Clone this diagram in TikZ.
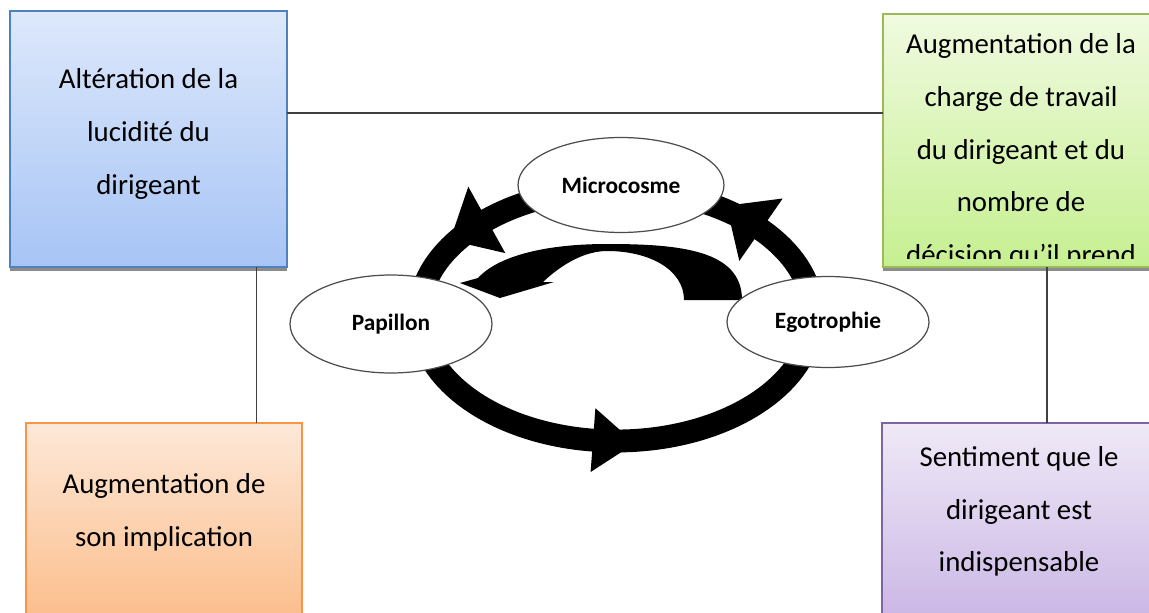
\documentclass[tikz,border=0pt]{standalone}
\usepackage{fontspec}
\setmainfont{Carlito}
\usetikzlibrary{calc,shapes.geometric,shadows}
\definecolor{LucidBlue}{HTML}{4F81BD}
\definecolor{LucidBlueTop}{HTML}{DDE8FB}
\definecolor{LucidBlueBot}{HTML}{A7C4F5}
\definecolor{ChargeGreen}{HTML}{9BBB59}
\definecolor{ChargeGreenTop}{HTML}{F0FAE0}
\definecolor{ChargeGreenBot}{HTML}{C6EF91}
\definecolor{ImplicOrange}{HTML}{F79646}
\definecolor{ImplicOrangeTop}{HTML}{FDE8D8}
\definecolor{ImplicOrangeBot}{HTML}{FBB57C}
\definecolor{IndispPurple}{HTML}{8064A2}
\definecolor{IndispPurpleTop}{HTML}{EFE9F7}
\definecolor{IndispPurpleBot}{HTML}{C3ACE1}
\tikzset{
  box/.style={rectangle, line width=1.1pt, inner sep=0pt, outer sep=0pt, drop shadow={shadow xshift=0pt, shadow yshift=-2.5pt, fill=black!45, opacity=1}},
  bluebox/.style={box, draw=LucidBlue, top color=LucidBlueTop, bottom color=LucidBlueBot, minimum width=5.54cm, minimum height=5.12cm},
  greenbox/.style={box, draw=ChargeGreen, top color=ChargeGreenTop, bottom color=ChargeGreenBot, minimum width=5.52cm, minimum height=5.06cm},
  orangebox/.style={box, draw=ImplicOrange, top color=ImplicOrangeTop, bottom color=ImplicOrangeBot, minimum width=5.52cm, minimum height=4.74cm},
  purplebox/.style={box, draw=IndispPurple, top color=IndispPurpleTop, bottom color=IndispPurpleBot, minimum width=5.52cm, minimum height=4.74cm},
  boxtext/.style={align=center, inner sep=0pt, font=\fontsize{16.4}{30}\selectfont},
  stage/.style={ellipse, draw=black!70, line width=0.7pt, fill=white, inner sep=0pt, font=\fontsize{13.3}{16}\selectfont\bfseries},
  link/.style={draw=black!75, line width=1.1pt},
  loopband/.style={draw=black, line width=13pt}
}
\begin{document}
\begin{tikzpicture}[x=0.02cm, y=-0.02cm]
\useasboundingbox (0,0) rectangle (1149,612);
\clip (0,0) rectangle (1149,612);
% four boxes
\node[bluebox] (lucid) at (148.5,139) {};
\node[greenbox] (charge) at (1021,140.5) {};
\node[orangebox] (implic) at (164,541.5) {};
\node[purplebox] (indisp) at (1020,541.5) {};
\node[boxtext] (lucidtxt) at (148.5,134) {Altération de la\\lucidité du\\dirigeant};
\begin{scope}
  \clip (883,14) rectangle (1149,258);
  \node[boxtext] (chargetxt) at (1021,151.5) {Augmentation de la\\charge de travail\\du dirigeant et du\\nombre de\\décision qu’il prend};
\end{scope}
\node[boxtext] (implictxt) at (164,512) {Augmentation de\\son implication};
\node[boxtext] (indisptxt) at (1019,511.5) {Sentiment que le\\dirigeant est\\indispensable};
% links
\draw[link] ($(lucid.north east)!0.4!(lucid.south east)$) coordinate (h1) -- (h1 -| charge.west);
\draw[link] ($(lucid.south west)!0.89!(lucid.south east)$) coordinate (l1) -- (l1 |- implic.north);
\draw[link] ($(charge.south west)!0.594!(charge.south east)$) coordinate (r1) -- (r1 |- indisp.north);
% the cycle
\draw[loopband] (616,315) ellipse [x radius=197, y radius=126];
\fill (468.3,186.7) -- (450.1,240.3) -- (505.3,253.1) -- cycle;
\fill (782.7,198.5) -- (726.5,205.7) -- (739.3,260.9) -- cycle;
\fill (595.4,408.2) -- (634.9,443.3) -- (590.6,472) -- cycle;
% inner curved arrow
\fill (742,300) .. controls (742,250) and (680,244) .. (607,244)
  .. controls (545,244) and (498,256) .. (478,278) -- (460,283) -- (500,298) -- (554,282) -- (543,282)
  .. controls (562,264) and (585,251) .. (607,251)
  .. controls (650,251) and (684,270) .. (684,300) -- cycle;
% stages
\node[stage, minimum width=4.12cm, minimum height=1.9cm] (micro) at (621,185) {Microcosme};
\node[stage, minimum width=4.04cm, minimum height=1.96cm] (papil) at (391,324) {Papillon};
\node[stage, minimum width=4.04cm, minimum height=1.82cm] (ego) at (828,322) {Egotrophie};
\end{tikzpicture}
\end{document}
